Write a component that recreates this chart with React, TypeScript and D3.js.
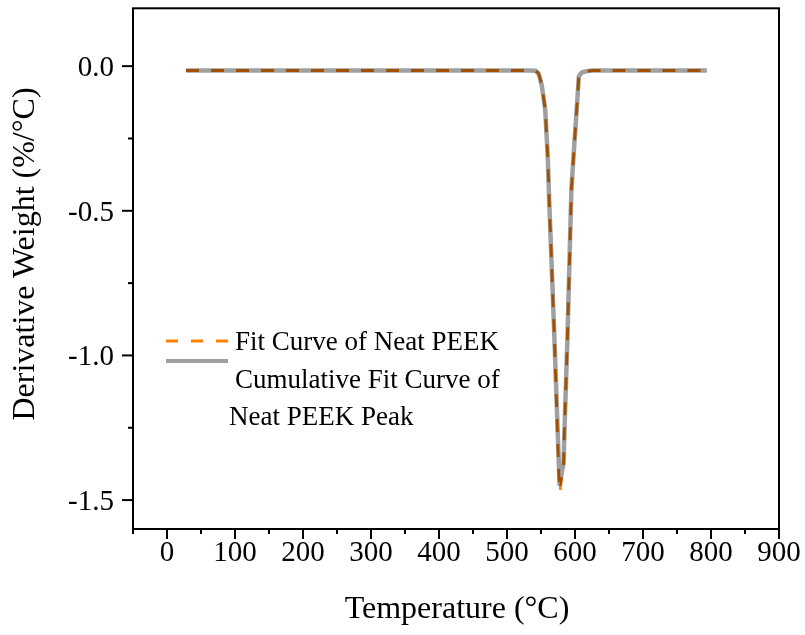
import React from "react";
import * as d3 from "d3";

// Cumulative fit curve (gray)
const grayTemp = [28, 100, 200, 300, 400, 500, 530, 542, 546.3, 549, 551.3, 556.2, 560.1, 562, 569.8, 577.3, 583.2, 584.5, 588.8, 594.7, 598.5, 603.5, 605.6, 610, 615.5, 625.6, 700, 794];
const grayVal = [-0.015, -0.015, -0.015, -0.015, -0.015, -0.015, -0.015, -0.016, -0.025, -0.046, -0.069, -0.15, -0.323, -0.461, -0.946, -1.445, -1.372, -1.26, -0.946, -0.427, -0.288, -0.115, -0.035, -0.022, -0.018, -0.015, -0.015, -0.015];

// Fit curve of neat PEEK (orange dashed)
const orangeTemp = [28, 100, 200, 300, 400, 500, 530, 542, 546.3, 549, 551.3, 556.2, 560.1, 562, 569.8, 576.1, 577.9, 583.2, 584.6, 588.8, 594.7, 598.5, 603.5, 605.6, 610, 615.5, 625.6, 700, 794];
const orangeVal = [-0.015, -0.015, -0.015, -0.015, -0.015, -0.015, -0.015, -0.016, -0.025, -0.046, -0.069, -0.15, -0.323, -0.461, -0.946, -1.406, -1.472, -1.37, -1.25, -0.946, -0.427, -0.288, -0.115, -0.035, -0.022, -0.018, -0.015, -0.015, -0.015];

const xTicks = [0, 100, 200, 300, 400, 500, 600, 700, 800, 900];
const xMinor = [-50, 50, 150, 250, 350, 450, 550, 650, 750, 850];
const yTicks = [0.0, -0.5, -1.0, -1.5];
const yMinor = [-0.25, -0.75, -1.25];

const legendLabels = ["Fit Curve of Neat PEEK", "Cumulative Fit Curve of", "Neat PEEK Peak"];

const ORANGE = "#FF8000";
const GRAY = "#A0A0A0";
const FONT = "'Liberation Serif', 'Times New Roman', serif";

export default function App() {
  const W = 805, H = 635;
  const left = 133, right = 779, top = 8.3, bottom = 529;
  const x = d3.scaleLinear().domain([-50, 900]).range([left, right]);
  const y = d3.scaleLinear().domain([0.2, -1.6]).range([top, bottom]);

  const grayData = grayTemp.map((t, i) => [t, grayVal[i]] as [number, number]);
  const orangeData = orangeTemp.map((t, i) => [t, orangeVal[i]] as [number, number]);
  const line = d3.line<[number, number]>().x(d => x(d[0])).y(d => y(d[1]));

  const fmtY = (v: number) => (v === 0 ? "0.0" : d3.format(".1f")(v).replace("−", "-"));

  return (
    <svg width={W} height={H} style={{ position: "absolute", left: 0, top: 0 }} fontFamily={FONT}>
      <rect x={0} y={0} width={W} height={H} fill="#fff" />
      {/* curves */}
      <path d={line(grayData) || ""} fill="none" stroke={GRAY} strokeWidth={4.5} strokeLinejoin="round" />
      <path d={line(orangeData) || ""} fill="none" stroke={ORANGE} strokeWidth={2.8} strokeDasharray="13,12" style={{ mixBlendMode: "multiply" }} />

      {/* frame */}
      <rect x={left} y={top} width={right - left} height={bottom - top} fill="none" stroke="#000" strokeWidth={2} />

      {/* x ticks */}
      {xTicks.map(t => (
        <g key={"xt" + t}>
          <line x1={x(t)} x2={x(t)} y1={bottom} y2={bottom + 10} stroke="#000" strokeWidth={2} />
          <text x={x(t)} y={561} textAnchor="middle" fontSize={29}>{t}</text>
        </g>
      ))}
      {xMinor.map(t => (
        <line key={"xm" + t} x1={x(t)} x2={x(t)} y1={bottom} y2={bottom + 5} stroke="#000" strokeWidth={2} />
      ))}
      {/* y ticks */}
      {yTicks.map(t => (
        <g key={"yt" + t}>
          <line x1={left} x2={left - 11} y1={y(t)} y2={y(t)} stroke="#000" strokeWidth={2} />
          <text x={114} y={y(t) + 10} textAnchor="end" fontSize={29}>{fmtY(t)}</text>
        </g>
      ))}
      {yMinor.map(t => (
        <line key={"ym" + t} x1={left} x2={left - 5} y1={y(t)} y2={y(t)} stroke="#000" strokeWidth={2} />
      ))}

      {/* axis titles */}
      <text x={(x(-50) + x(900)) / 2 + 1} y={618} textAnchor="middle" fontSize={32}>Temperature (°C)</text>
      <text transform={`translate(34, 254) rotate(-90)`} textAnchor="middle" fontSize={32}>Derivative Weight (%/°C)</text>

      {/* legend */}
      <line x1={166} x2={228} y1={341} y2={341} stroke={ORANGE} strokeWidth={2.8} strokeDasharray="12,13" />
      <line x1={166} x2={228} y1={361} y2={361} stroke={GRAY} strokeWidth={4} />
      <text x={235} y={350} fontSize={27}>{legendLabels[0]}</text>
      <text x={235} y={388} fontSize={27}>{legendLabels[1]}</text>
      <text x={229} y={425} fontSize={27}>{legendLabels[2]}</text>
    </svg>
  );
}
